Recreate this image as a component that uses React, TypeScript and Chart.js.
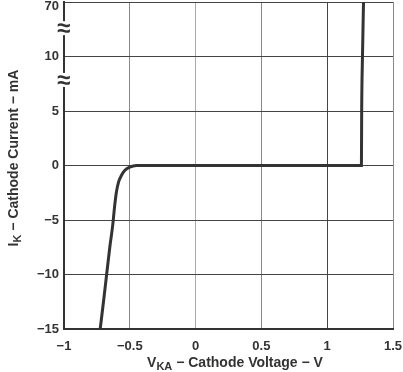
import React, { useEffect, useRef } from "react";
import { Chart, registerables } from "chart.js";

Chart.register(...registerables);

// Cathode voltage (V) and cathode current (mA)
const vka: number[] = [-0.725, -0.7, -0.676, -0.652, -0.63, -0.615, -0.602, -0.585, -0.564, -0.539, -0.5, -0.45, 1.26, 1.262, 1.268, 1.276];
const ik: number[] = [-15, -12.5, -10, -7.5, -5.5, -3.7, -2.45, -1.5, -0.92, -0.46, -0.15, 0, 0, 5, 10, 70];

const xTicks: number[] = [-1, -0.5, 0, 0.5, 1, 1.5];
const yTickLabels: string[] = ["−15", "−10", "−5", "0", "5", "10", "70"];
const breakPositions: number[] = [4.57, 5.52];

// broken y axis: mA -> axis position
function yPos(v: number): number {
  if (v <= 5) return (v + 15) / 5;
  if (v <= 10) return 4 + (v - 5) / 5;
  return 5 + (v - 10) / 60;
}

const FONT = "'Liberation Sans', Arial, sans-serif";

const overlay = {
  id: "overlay",
  afterDraw(chart: any) {
    const ctx = chart.ctx as CanvasRenderingContext2D;
    const ya = chart.scales.y;
    const area = chart.chartArea;
    ctx.save();
    // break symbols
    breakPositions.forEach((p) => {
      const py = ya.getPixelForValue(p);
      ctx.fillStyle = "#fff";
      ctx.fillRect(area.left - 3, py - 7, 6, 14);
      ctx.fillStyle = "#333";
      ctx.font = `bold 24px ${FONT}`;
      ctx.textAlign = "center";
      ctx.textBaseline = "middle";
      ctx.fillText("≈", area.left - 0.5, py + 1);
    });
    // top tick label (sits a bit below the top edge)
    ctx.fillStyle = "#333";
    ctx.font = `bold 13px ${FONT}`;
    ctx.textAlign = "right";
    ctx.textBaseline = "middle";
    ctx.fillText(yTickLabels[yTickLabels.length - 1], area.left - 5, 6);

    const drawSub = (main: string, sub: string, rest: string) => {
      ctx.font = `bold 14px ${FONT}`;
      const w1 = ctx.measureText(main).width;
      const w3 = ctx.measureText(rest).width;
      ctx.font = `bold 11px ${FONT}`;
      const w2 = ctx.measureText(sub).width;
      const total = w1 + w2 + w3;
      let x = -total / 2;
      ctx.textAlign = "left";
      ctx.textBaseline = "alphabetic";
      ctx.font = `bold 14px ${FONT}`;
      ctx.fillText(main, x, 0);
      x += w1;
      ctx.font = `bold 11px ${FONT}`;
      ctx.fillText(sub, x, 3);
      x += w2;
      ctx.font = `bold 14px ${FONT}`;
      ctx.fillText(rest, x, 0);
    };
    ctx.save();
    ctx.translate(235, 367);
    drawSub("V", "KA", " − Cathode Voltage − V");
    ctx.restore();
    ctx.save();
    ctx.translate(18, 158);
    ctx.rotate(-Math.PI / 2);
    drawSub("I", "K", " − Cathode Current − mA");
    ctx.restore();
    ctx.restore();
  },
};

export default function App() {
  const ref = useRef<HTMLCanvasElement | null>(null);
  useEffect(() => {
    document.body.style.margin = "0";
    const canvas = ref.current!;
    const points = vka.map((x, i) => ({ x, y: yPos(ik[i]) }));
    const chart = new Chart(canvas, {
      type: "line",
      data: {
        datasets: [
          {
            data: points,
            borderColor: "#333",
            borderWidth: 3,
            pointRadius: 0,
            cubicInterpolationMode: "monotone",
            clip: false as any,
          },
        ],
      },
      options: {
        animation: false,
        responsive: false,
        devicePixelRatio: 1,
        layout: { padding: { left: 0, right: 10, top: 2, bottom: 0 } },
        plugins: { legend: { display: false }, tooltip: { enabled: false } },
        scales: {
          x: {
            type: "linear",
            min: -1,
            max: 1.5,
            afterBuildTicks: (s: any) => {
              s.ticks = xTicks.map((v) => ({ value: v }));
            },
            afterFit: (s: any) => {
              s.height = 43;
              s.paddingLeft = 0;
              s.paddingRight = 0;
            },
            grid: {
              drawTicks: false,
              color: (c: any) => {
                const v = c.tick ? c.tick.value : 0;
                if (v === 1) return "#444";
                if (v === 0) return "#aaa";
                return "#888";
              },
              lineWidth: 1,
            },
            border: { color: "#333", width: 2 },
            ticks: {
              padding: 10,
              color: "#333",
              font: { family: FONT, size: 13, weight: "bold" },
              callback: (v: any) => (Number(v) < 0 ? "−" + String(Math.abs(Number(v))) : String(v)),
            },
          },
          y: {
            type: "linear",
            min: 0,
            max: 6,
            afterBuildTicks: (s: any) => {
              s.ticks = yTickLabels.map((_, i) => ({ value: i }));
            },
            afterFit: (s: any) => {
              s.width = 64;
              s.paddingTop = 0;
              s.paddingBottom = 0;
            },
            grid: { drawTicks: false, color: "#444", lineWidth: 1 },
            border: { color: "#333", width: 2 },
            ticks: {
              padding: 5,
              color: "#333",
              font: { family: FONT, size: 13, weight: "bold" },
              callback: (v: any) => {
                const i = Math.round(Number(v));
                return i === yTickLabels.length - 1 ? "" : yTickLabels[i];
              },
            },
          },
        },
      },
      plugins: [overlay],
    });
    return () => chart.destroy();
  }, []);
  return (
    <div style={{ position: "fixed", left: 0, top: 0, width: 403, height: 372, background: "#fff" }}>
      <canvas ref={ref} width={403} height={372} style={{ display: "block" }} />
    </div>
  );
}
